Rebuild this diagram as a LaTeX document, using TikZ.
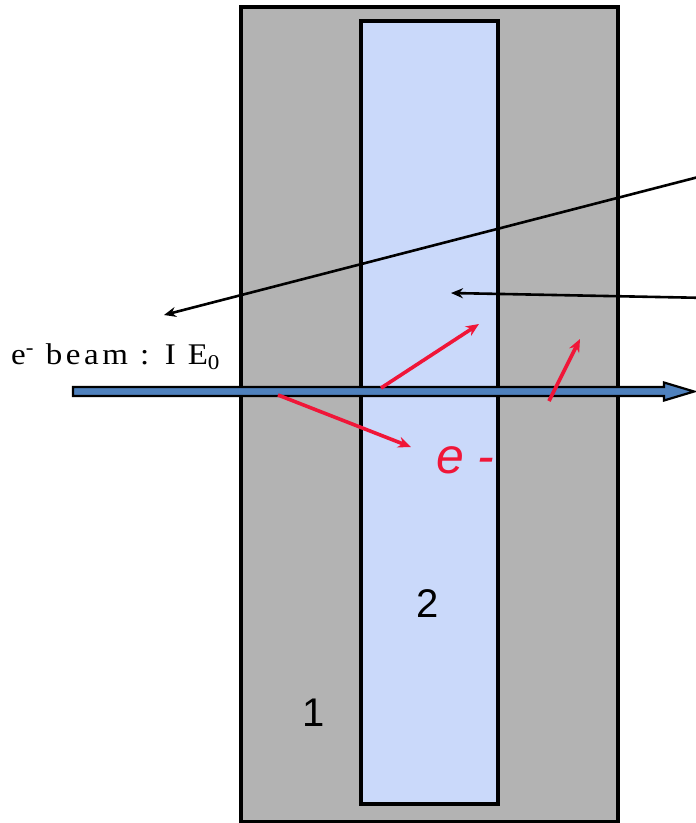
\documentclass[tikz,border=0pt]{standalone}
\usepackage{fontspec}
\setmainfont{Liberation Serif}
\newfontfamily\arialfont{Liberation Sans}
\newfontfamily\beamfont[LetterSpace=12,FakeStretch=1.1]{Liberation Serif}
\usetikzlibrary{arrows.meta,calc,positioning}

\definecolor{slabgray}{RGB}{179,179,179}
\definecolor{corefill}{RGB}{202,217,250}
\definecolor{beamblue}{RGB}{79,129,189}
\definecolor{hitred}{RGB}{240,22,56}

\begin{document}
\begin{tikzpicture}[
  x=1pt, y=-1pt,
  every node/.style={inner sep=0pt},
  slab/.style={draw=black,line width=3.2pt},
  beamarrow/.style={draw=black,fill=beamblue,line width=2.2pt,line join=miter},
  pointer/.style={-{Stealth[length=12pt,width=10pt]},line width=2.6pt},
  scatter/.style={-{Stealth[length=13pt,width=11pt]},draw=hitred,line width=3.6pt},
  bignum/.style={font=\arialfont\fontsize{40}{44}\selectfont}
]
\useasboundingbox (0,0) rectangle (696,823);

% target: outer layer 1, inner layer 2
\filldraw[slab,fill=slabgray] (241,7) rectangle (618,822);
\filldraw[slab,fill=corefill] (361,21) rectangle (498,804);

% label coordinates
\coordinate (farend)  at (710,174);
\coordinate (beamtag) at (164,315);
\coordinate (midend)  at (710,298);
\coordinate (coretag) at (451,293);

% incoming electron beam
\coordinate (btail) at (73,391.5);
\coordinate (bneck) at (664,391.5);
\coordinate (btip)  at (694,391.5);
\filldraw[beamarrow] ($(btail)+(0,-4.5)$) -- ($(bneck)+(0,-4.5)$)
  -- ($(bneck)+(0,-9)$) -- (btip) -- ($(bneck)+(0,9)$)
  -- ($(bneck)+(0,4.5)$) -- ($(btail)+(0,4.5)$) -- cycle;

% pointers from the right
\draw[pointer] (farend) -- (beamtag);
\draw[pointer] (midend) -- (coretag);

% secondary electrons
\coordinate (s1a) at (381,388);
\coordinate (s1b) at (479,324);
\coordinate (s2a) at (278,395);
\coordinate (s2b) at (411,447);
\coordinate (s3a) at (549,401);
\coordinate (s3b) at (580,339);
\draw[scatter] (s1a) -- (s1b);
\draw[scatter] (s2a) -- (s2b);
\draw[scatter] (s3a) -- (s3b);

% texts
\node[anchor=base west,font=\beamfont\fontsize{30}{34}\selectfont] (beamlbl)
  at (11,364) {e\textsuperscript{-} beam : I E\textsubscript{0}};
\node[anchor=base west,text=hitred,
      font=\arialfont\itshape\fontsize{50}{54}\selectfont] (elbl)
  at (436,473) {e -};
\node[bignum] (core) at (428,604) {2};
\node[bignum] (outer) at (314,713) {1};
\end{tikzpicture}
\end{document}
